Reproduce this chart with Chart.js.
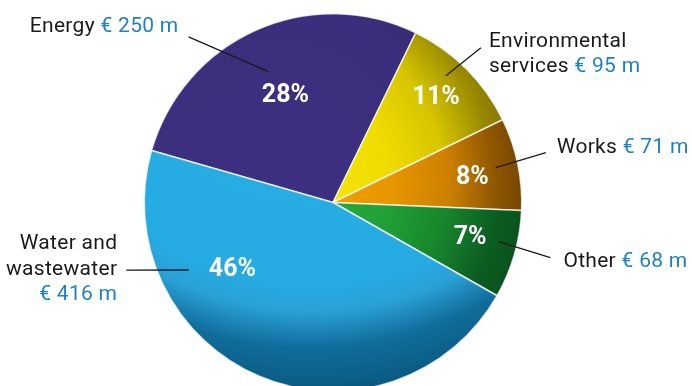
<!DOCTYPE html>
<html>
<head>
<meta charset="utf-8">
<script src="https://cdn.jsdelivr.net/npm/chart.js@4.4.1/dist/chart.umd.min.js"></script>
<style>
  html, body { margin: 0; padding: 0; background: #fff; overflow: hidden; }
  #wrap { width: 692px; height: 400px; }
</style>
</head>
<body>
<div id="wrap"><canvas id="chart" width="692" height="400"></canvas></div>
<script>
'use strict';

/* ── data ─────────────────────────────────────────────── */
const segments  = ['Energy', 'Environmental services', 'Works', 'Other', 'Water and wastewater'];
const nameLines = [['Energy'], ['Environmental', 'services'], ['Works'], ['Other'], ['Water and', 'wastewater']];
const amounts   = [250, 95, 71, 68, 416];          // € m
const shares    = ['28%', '11%', '8%', '7%', '46%'];

/* ── styling ──────────────────────────────────────────── */
// radial shading per slice: gradient centre offset (in radii), gradient radius (in radii), colour stops
const shading = [
  { o: [-0.3, -0.1], r: 1.35, stops: [[0, '#3e3081'], [0.7, '#3b2e7c'], [1, '#2c2165']] },
  { o: [-0.3, -0.1], r: 1.35, stops: [[0, '#f8ea10'], [0.45, '#efdb00'], [0.66, '#d6c500'], [0.86, '#958500'], [1, '#776a00']] },
  { o: [-0.3, -0.1], r: 1.35, stops: [[0, '#f4aa00'], [0.45, '#e89600'], [0.68, '#cc8000'], [0.86, '#8e5600'], [1, '#6e4200']] },
  { o: [-0.3, -0.1], r: 1.35, stops: [[0, '#2cb443'], [0.45, '#21a037'], [0.68, '#17842c'], [0.86, '#0c5e22'], [1, '#0a4f1c']] },
  { o: [-0.12, -1.1], r: 2.2, stops: [[0, '#29aee6'], [0.7, '#26aae2'], [0.76, '#2aa1d6'], [0.85, '#106c9a'], [0.95, '#0a5a82'], [1, '#0a5478']] },
];
const FONT = 'Roboto, "Open Sans", sans-serif';
const INK = '#1a1a1a';
const BLUE = '#1f80c6';

// label placement relative to each slice: [angle offset from mid (deg), radius fraction]
const pctPos = [[0, 0.62], [-0.5, 0.78], [1.6, 0.75], [-1.7, 0.75], [33.6, 0.64]];
// leader lines: inner/outer end in polar terms, text offset from outer end
const callouts = [
  { a1: -2.4, r1: 0.776, a2: -17.1, r2: 1.164, dx: -10, dy: -5, side: 'right' },
  { a1: -3.3, r1: 0.899, a2: -1.3,  r2: 1.134, dx: 8,   dy: -1, side: 'left' },
  { a1: -0.3, r1: 0.882, a2: -1.4,  r2: 1.158, dx: 11,  dy: 0,  side: 'left' },
  { a1: -2.7, r1: 0.901, a2: -1.8,  r2: 1.188, dx: 13,  dy: 9,  side: 'left' },
  { a1: 42.1, r1: 0.843, a2: 49.1,  r2: 1.152, dx: -9,  dy: -21, side: 'right', ownLine: true },
];

const DEG = Math.PI / 180;

function sliceFill(c) {
  const area = c.chart.chartArea;
  const s = shading[c.dataIndex];
  if (!area) return s.stops[1][1];
  const cx = (area.left + area.right) / 2, cy = (area.top + area.bottom) / 2;
  const R = Math.min(area.right - area.left, area.bottom - area.top) / 2;
  const gx = cx + s.o[0] * R, gy = cy + s.o[1] * R;
  const g = c.chart.ctx.createRadialGradient(gx, gy, 0, gx, gy, s.r * R);
  s.stops.forEach(st => g.addColorStop(st[0], st[1]));
  return g;
}

function polar(arc, angle, frac) {
  return { x: arc.x + Math.cos(angle) * arc.outerRadius * frac, y: arc.y + Math.sin(angle) * arc.outerRadius * frac };
}

function drawParts(ctx, parts, x, y, side) {
  let w = 0;
  parts.forEach(p => { w += ctx.measureText(p[0]).width; });
  let cur = side === 'right' ? x - w : x;
  parts.forEach(p => {
    ctx.fillStyle = p[1];
    ctx.fillText(p[0], cur, y);
    cur += ctx.measureText(p[0]).width;
  });
}

const labelsPlugin = {
  id: 'pieLabels',
  afterDatasetsDraw(chart) {
    const ctx = chart.ctx;
    const arcs = chart.getDatasetMeta(0).data;
    ctx.save();
    arcs.forEach((el, i) => {
      const arc = el.getProps(['x', 'y', 'startAngle', 'endAngle', 'outerRadius'], true);
      const mid = (arc.startAngle + arc.endAngle) / 2;

      // percentage inside the slice
      const p = polar(arc, mid + pctPos[i][0] * DEG, pctPos[i][1]);
      ctx.font = `bold 25px ${FONT}`;
      ctx.letterSpacing = '0px';
      ctx.fillStyle = '#ffffff';
      ctx.textAlign = 'center';
      ctx.textBaseline = 'middle';
      ctx.fillText(shares[i], p.x, p.y);

      // leader line
      const c = callouts[i];
      const a = polar(arc, mid + c.a1 * DEG, c.r1);
      const b = polar(arc, mid + c.a2 * DEG, c.r2);
      ctx.strokeStyle = INK;
      ctx.lineWidth = 1.3;
      ctx.beginPath();
      ctx.moveTo(a.x, a.y);
      ctx.lineTo(b.x, b.y);
      ctx.stroke();

      // name + amount
      ctx.font = `21px ${FONT}`;
      ctx.letterSpacing = '0.3px';
      ctx.textAlign = 'left';
      ctx.textBaseline = 'alphabetic';
      const lines = nameLines[i].map(t => [[t, INK]]);
      const amt = `€ ${amounts[i]} m`;
      if (c.ownLine) lines.push([[amt, BLUE]]);
      else lines[lines.length - 1].push([' ' + amt, BLUE]);
      lines.forEach((parts, k) => {
        drawParts(ctx, parts, b.x + c.dx, b.y + c.dy + k * 25.5, c.side);
      });
    });
    ctx.restore();
  },
};

new Chart(document.getElementById('chart'), {
  type: 'pie',
  data: {
    labels: segments,
    datasets: [{
      data: amounts,
      backgroundColor: sliceFill,
      borderColor: 'rgba(255,255,255,0.75)',
      borderWidth: 1.5,
    }],
  },
  options: {
    responsive: false,
    animation: false,
    events: [],
    rotation: -74,
    layout: { padding: { top: 13, bottom: 8, left: 0, right: 26 } },
    plugins: { legend: { display: false }, tooltip: { enabled: false } },
  },
  plugins: [labelsPlugin],
});
</script>
</body>
</html>
